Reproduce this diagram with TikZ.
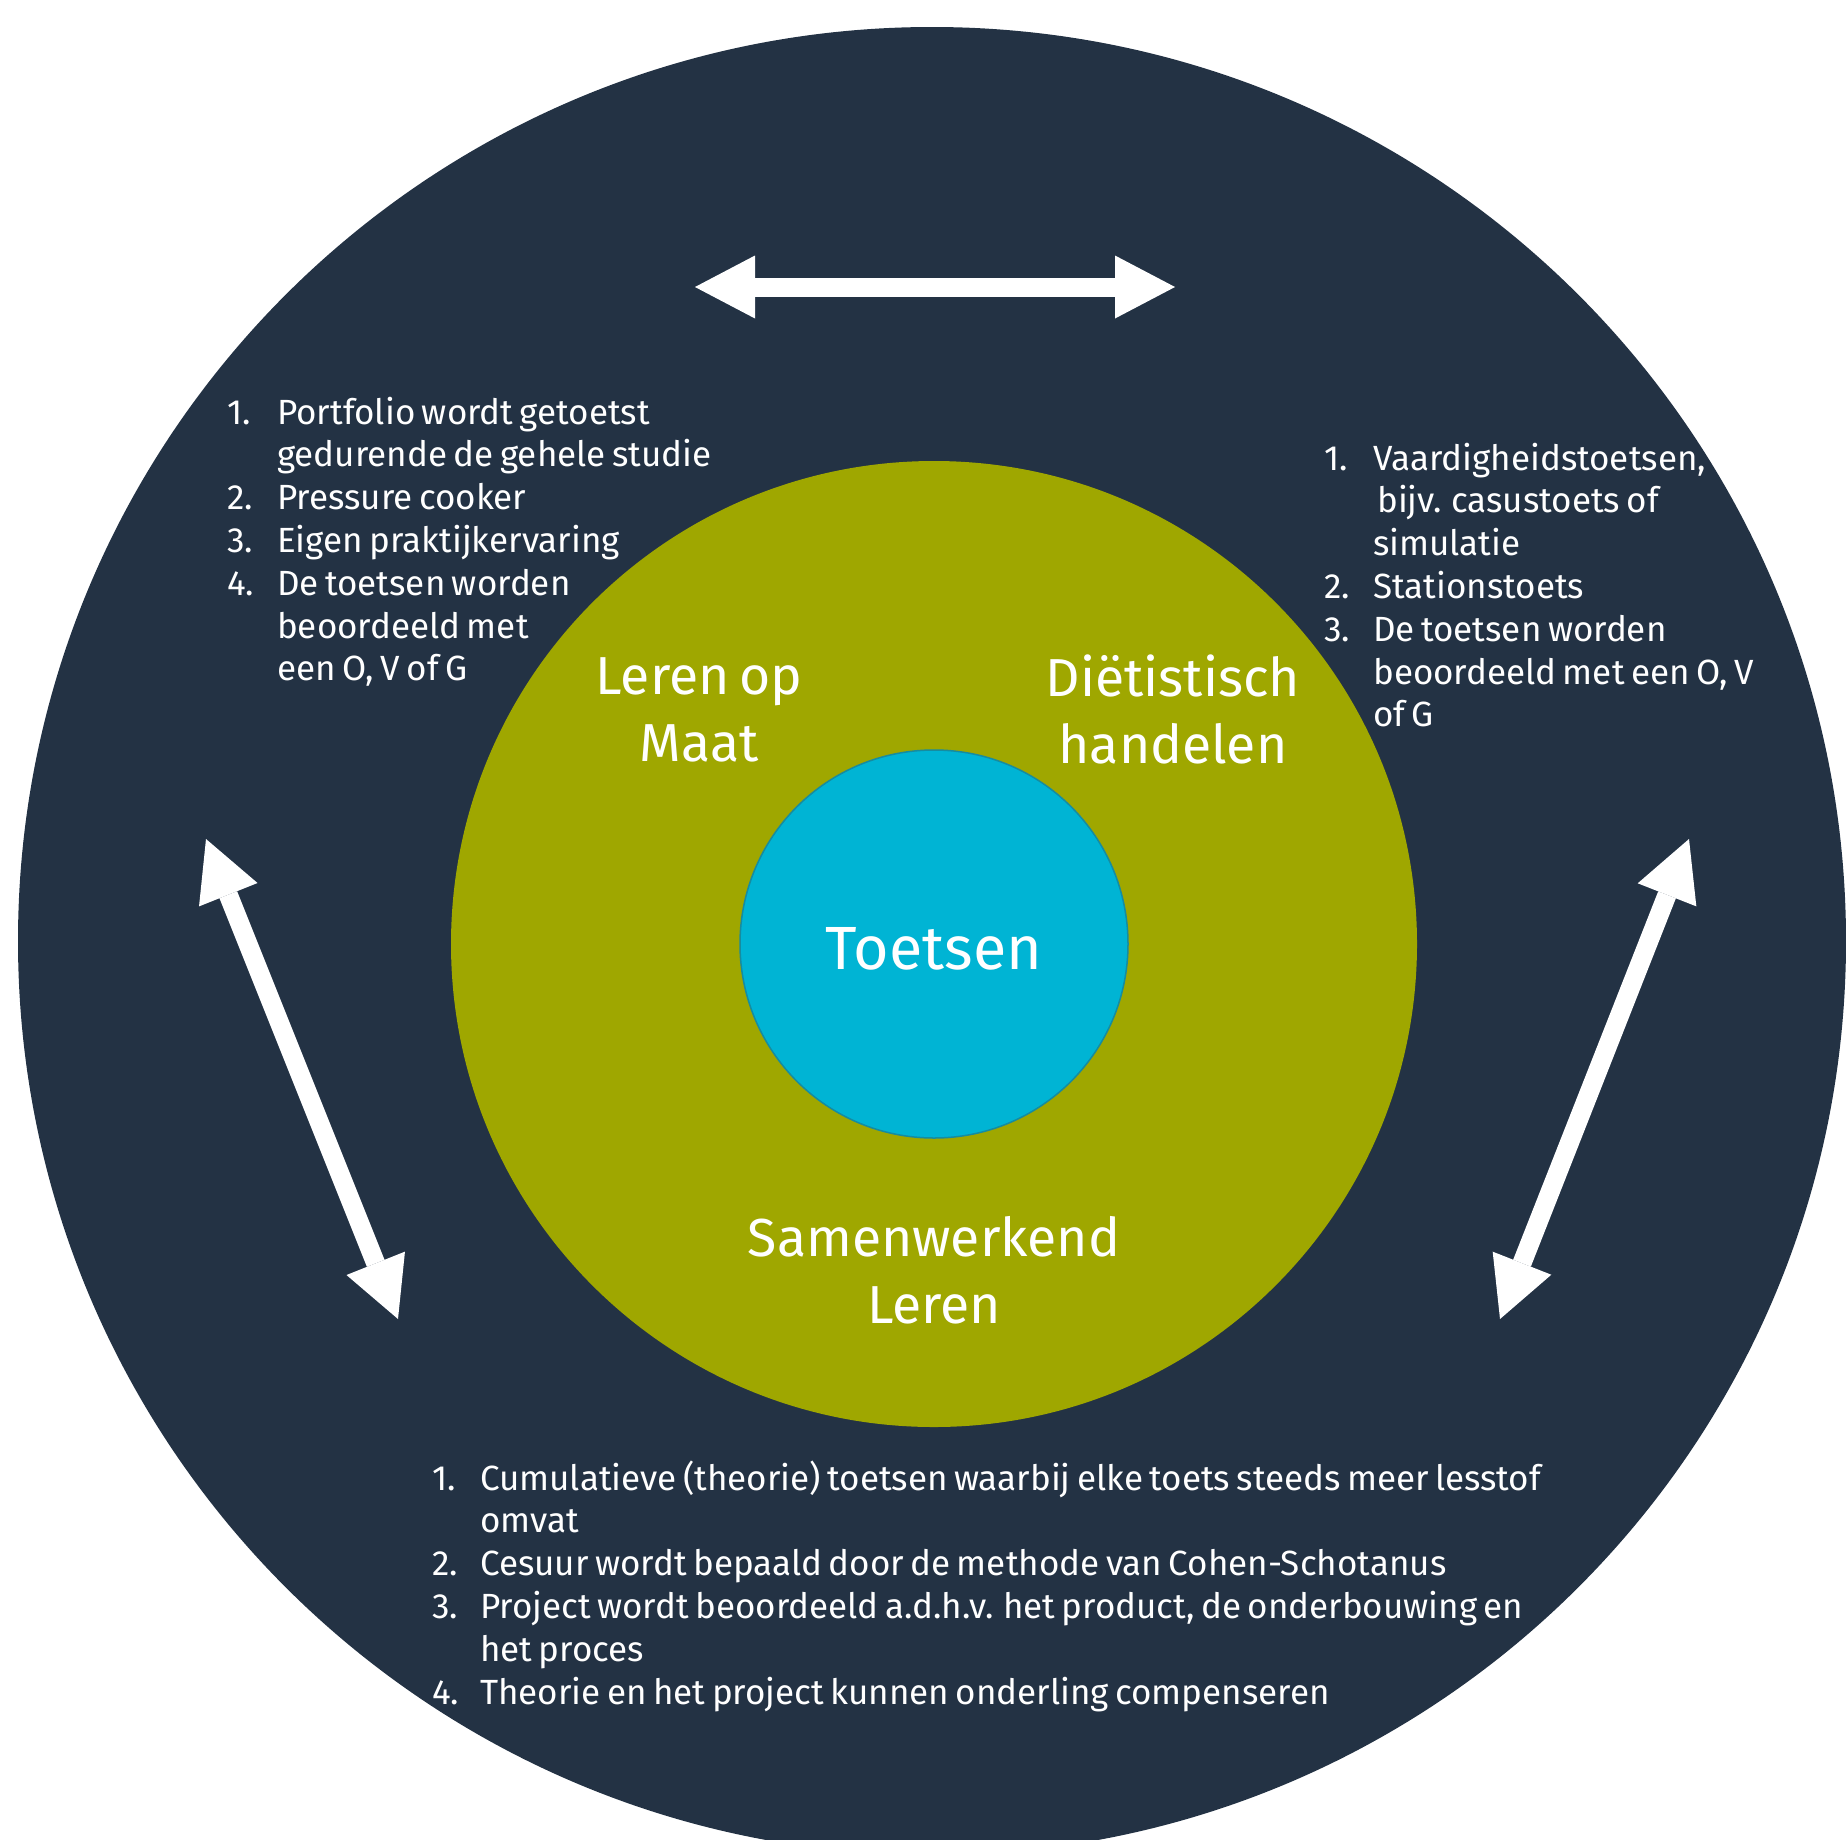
\documentclass[tikz,border=0pt]{standalone}
\usepackage{fontspec}
\setmainfont{Fira Sans}[WordSpace=0.7]
\usetikzlibrary{arrows.meta}
\definecolor{navy}{RGB}{35,50,68}
\definecolor{olive}{RGB}{159,167,0}
\definecolor{cyanc}{RGB}{0,180,212}
\definecolor{cyanb}{RGB}{22,140,160}
\tikzset{
  disc/.style={circle, inner sep=0pt, outer sep=0pt},
  biglbl/.style={text=white, inner sep=0pt, align=center, font=\fontsize{53.5}{67}\selectfont},
  listtxt/.style={text=white, inner sep=0pt, anchor=base west, font=\fontsize{35}{42.8}\selectfont},
  bigarrow/.style={draw=white, line width=19pt,
    {Triangle[length=60pt,width=63pt,line width=0pt]}-{Triangle[length=60pt,width=63pt,line width=0pt]}}
}
\begin{document}
\begin{tikzpicture}[x=1pt, y=-1pt]
\useasboundingbox (0,0) rectangle (1846,1839);
\node[disc, fill=navy, minimum size=1828pt] (outer) at (932,941) {};
\node[disc, fill=olive, minimum size=966pt] (mid) at (934,944) {};
\node[disc, fill=cyanc, draw=cyanb, line width=1.5pt, minimum size=388pt] (core) at (934,944) {};

\node[biglbl, font=\fontsize{61}{70}\selectfont] (toetsen) at (934,949) {Toetsen};
\node[biglbl] (lom) at (699,710) {Leren op\\Maat};
\node[biglbl] (dh) at (1173,709) {Diëtistisch\\handelen};
\node[biglbl] (sl) at (934,1270) {Samenwerkend\\Leren};

\node[listtxt] (llist) at (227,424) {\begin{tabular}[t]{@{}p{50pt}@{}l@{}}
1.&Portfolio wordt getoetst\\
&gedurende de gehele studie\\
2.&Pressure cooker\\
3.&Eigen praktijkervaring\\
4.&De toetsen worden\\
&beoordeeld met\\
&een O, V of G
\end{tabular}};

\node[listtxt] (rlist) at (1324,470) {\begin{tabular}[t]{@{}p{49pt}@{}l@{}}
1.&Vaardigheidstoetsen,\\
&\hspace{4pt}bijv. casustoets of\\
&simulatie\\
2.&Stationstoets\\
3.&De toetsen worden\\
&beoordeeld met een O, V\\
&of G
\end{tabular}};

\node[listtxt] (blist) at (432,1490) {\begin{tabular}[t]{@{}p{48pt}@{}l@{}}
1.&Cumulatieve (theorie) toetsen waarbij elke toets steeds meer lesstof\\
&omvat\\
2.&Cesuur wordt bepaald door de methode van Cohen-Schotanus\\
3.&Project wordt beoordeeld a.d.h.v. het product, de onderbouwing en\\
&het proces\\
4.&Theorie en het project kunnen onderling compenseren
\end{tabular}};

\coordinate (ta) at (695,287); \coordinate (tb) at (1175,287);
\coordinate (la) at (206,839); \coordinate (lb) at (398,1319);
\coordinate (ra) at (1689,839); \coordinate (rb) at (1500,1319);
\draw[bigarrow] (ta) -- (tb);
\draw[bigarrow] (la) -- (lb);
\draw[bigarrow] (ra) -- (rb);
\end{tikzpicture}
\end{document}
